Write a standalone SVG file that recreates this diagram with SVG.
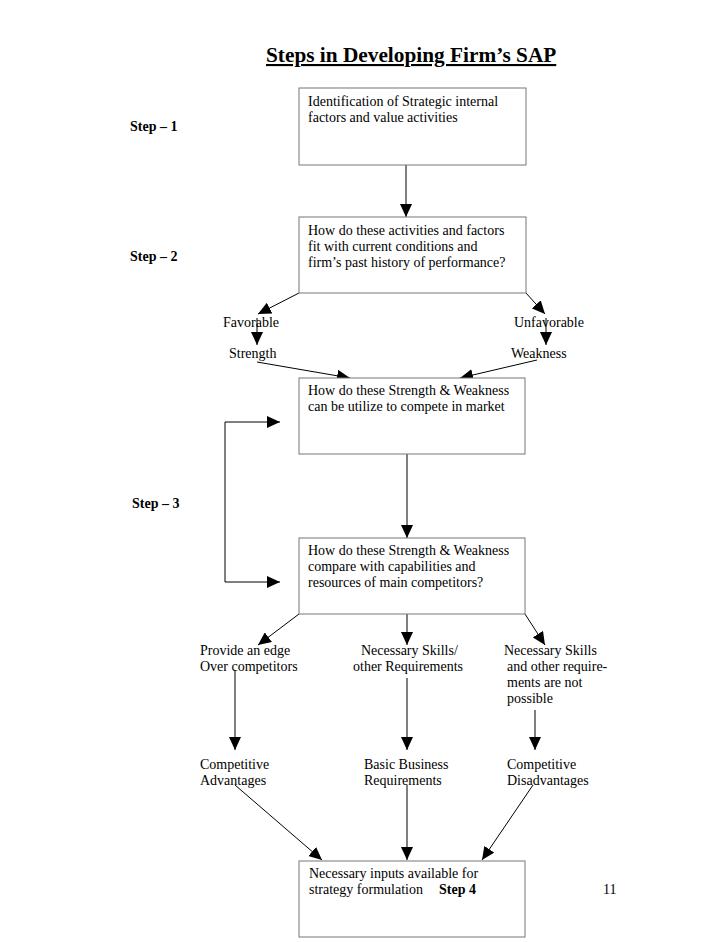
<svg xmlns="http://www.w3.org/2000/svg" width="728" height="942" viewBox="0 0 728 942">
<style>
text{font-family:"Liberation Serif","Times New Roman",serif;font-size:14px;fill:#000}
.b{font-weight:bold}
.title{font-size:21.3px;font-weight:bold;text-decoration:underline}
.box{fill:#fff;stroke:#777;stroke-width:1}
.c{stroke:#000;stroke-width:1;fill:none;marker-end:url(#ah)}
</style>
<defs>
<marker id="ah" markerUnits="userSpaceOnUse" markerWidth="13" markerHeight="12" refX="13" refY="6" orient="auto">
<path d="M0,0 L13,6 L0,12 z" fill="#000"/>
</marker>
</defs>
<rect width="728" height="942" fill="#fff"/>
<text class="title" x="266" y="62">Steps in Developing Firm’s SAP</text>
<g id="labels">
<text class="b" x="130" y="131">Step – 1</text>
<text class="b" x="130" y="261">Step – 2</text>
<text class="b" x="132" y="508">Step – 3</text>
<text x="603" y="894">11</text>
</g>
<g id="connectors">
<path class="c" d="M406,165 V217"/>
<path class="c" d="M299,293 L258,314"/>
<path class="c" d="M526,293 L545,314"/>
<path class="c" d="M257,318 V345"/>
<path class="c" d="M546,318 V345"/>
<path class="c" d="M257,362 L350,378"/>
<path class="c" d="M537,360 L460,378"/>
<path class="c" d="M407,454 V538"/>
<path class="c" d="M225,502 V422 H280"/>
<path class="c" d="M225,502 V582 H280"/>
<path class="c" d="M299,614 L258,645"/>
<path class="c" d="M407,614 V645"/>
<path class="c" d="M525,614 L545,645"/>
<path class="c" d="M235,670 V750"/>
<path class="c" d="M407,678 V750"/>
<path class="c" d="M535,710 V750"/>
<path class="c" d="M235,785 L322,860"/>
<path class="c" d="M407,785 V860"/>
<path class="c" d="M533,785 L482,860"/>
</g>
<g id="n1">
<rect class="box" x="299" y="88" width="227" height="77"/>
<text x="308" y="106">Identification of Strategic internal</text>
<text x="308" y="122">factors and value activities</text>
</g>
<g id="n2">
<rect class="box" x="299" y="217" width="227" height="76"/>
<text x="308" y="235">How do these activities and factors</text>
<text x="308" y="251">fit with current conditions and</text>
<text x="308" y="267">firm’s past history of performance?</text>
</g>
<g id="n-favorable"><text x="223" y="327">Favorable</text></g>
<g id="n-unfavorable"><text x="514" y="327">Unfavorable</text></g>
<g id="n-strength"><text x="229" y="358">Strength</text></g>
<g id="n-weakness"><text x="511" y="358">Weakness</text></g>
<g id="n3">
<rect class="box" x="299" y="378" width="226" height="76"/>
<text x="308" y="395">How do these Strength &amp; Weakness</text>
<text x="308" y="411">can be utilize to compete in market</text>
</g>
<g id="n4">
<rect class="box" x="299" y="538" width="226" height="76"/>
<text x="308" y="555">How do these Strength &amp; Weakness</text>
<text x="308" y="571">compare with capabilities and</text>
<text x="308" y="587">resources of main competitors?</text>
</g>
<g id="n-edge">
<text x="200" y="655">Provide an edge</text>
<text x="200" y="671">Over competitors</text>
</g>
<g id="n-skills">
<text x="361" y="655">Necessary Skills/</text>
<text x="353" y="671">other Requirements</text>
</g>
<g id="n-notpossible">
<text x="504" y="655">Necessary Skills</text>
<text x="507" y="671">and other require-</text>
<text x="507" y="687">ments are not</text>
<text x="507" y="703">possible</text>
</g>
<g id="n-adv">
<text x="200" y="769">Competitive</text>
<text x="200" y="785">Advantages</text>
</g>
<g id="n-basic">
<text x="364" y="769">Basic Business</text>
<text x="364" y="785">Requirements</text>
</g>
<g id="n-disadv">
<text x="507" y="769">Competitive</text>
<text x="507" y="785">Disadvantages</text>
</g>
<g id="n5">
<rect class="box" x="299" y="861" width="226" height="76"/>
<text x="309" y="878">Necessary inputs available for</text>
<text x="309" y="894">strategy formulation</text>
<text class="b" x="439" y="894">Step 4</text>
</g>
</svg>
